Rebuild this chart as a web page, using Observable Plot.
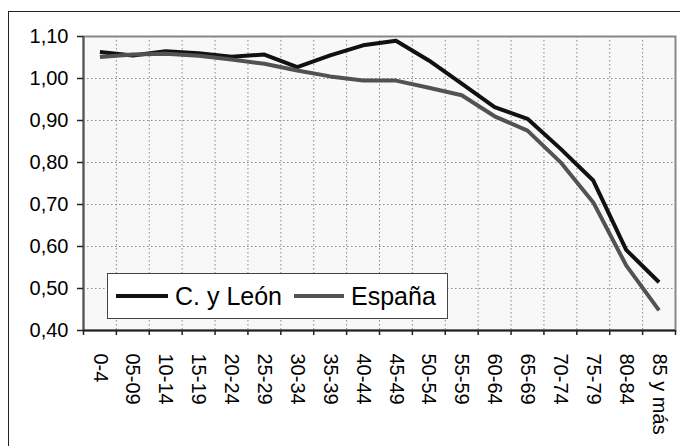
<!DOCTYPE html>
<html>
<head>
<meta charset="utf-8">
<script src="https://cdn.jsdelivr.net/npm/d3@7"></script>
<script src="https://cdn.jsdelivr.net/npm/@observablehq/plot@0.6"></script>
<style>
  html, body { margin: 0; padding: 0; background: #fff; width: 680px; height: 446px; overflow: hidden; }
  #wrap { position: relative; width: 680px; height: 446px; font-family: 'Liberation Sans', Arial, sans-serif; }
  #outer { position: absolute; left: 8px; top: 11px; width: 720px; height: 480px; border: 1.5px solid #222; pointer-events: none; }
  #legend { position: absolute; left: 107px; top: 273px; width: 339px; height: 44px; border: 1.5px solid #444; background: #fff; }
  .sw { position: absolute; top: 20px; height: 4px; }
  .lt { position: absolute; top: 0; line-height: 44px; font-size: 25px; color: #000; white-space: nowrap; }
</style>
</head>
<body>
<div id="wrap">
  <div id="chart"></div>
  <div id="legend"></div>
  <div id="outer"></div>
</div>
<script>
const categories = ["0-4","05-09","10-14","15-19","20-24","25-29","30-34","35-39","40-44","45-49","50-54","55-59","60-64","65-69","70-74","75-79","80-84","85 y más"];
const cyLeon = [1.063,1.055,1.065,1.060,1.052,1.057,1.027,1.055,1.079,1.090,1.043,0.988,0.932,0.904,0.833,0.757,0.592,0.515];
const espana = [1.051,1.057,1.059,1.054,1.045,1.035,1.019,1.005,0.995,0.995,0.978,0.960,0.910,0.876,0.801,0.705,0.555,0.448];
const yTicks = [0.40,0.50,0.60,0.70,0.80,0.90,1.00,1.10];
const seriesNames = ["C. y León","España"];
const seriesColors = ["#111111","#525252"];

const rows = [];
categories.forEach((c, i) => {
  rows.push({series: seriesNames[0], idx: i + 0.5, value: cyLeon[i]});
  rows.push({series: seriesNames[1], idx: i + 0.5, value: espana[i]});
});
const catPos = categories.map((c, i) => ({cat: c, idx: i + 0.5}));
const boundaries = d3.range(0, categories.length + 1);
const fmt = d => d.toFixed(2).replace(".", ",");

const chart = Plot.plot({
  width: 680,
  height: 446,
  marginTop: 36,
  marginRight: 5,
  marginBottom: 116,
  marginLeft: 83,
  style: {fontFamily: "'Liberation Sans', Arial, sans-serif", fontSize: "20px", color: "#000", background: "transparent", overflow: "visible"},
  x: {type: "linear", domain: [0, categories.length], label: null},
  y: {domain: [0.4, 1.1], label: null},
  color: {domain: seriesNames, range: seriesColors},
  marks: [
    Plot.frame({fill: "#f8f8f8", stroke: null}),
    Plot.ruleY(yTicks.slice(1, -1), {stroke: "#8a8a8a", strokeWidth: 1, strokeDasharray: "1.5,2.5"}),
    Plot.ruleX(boundaries.slice(1, -1), {stroke: "#8a8a8a", strokeWidth: 1, strokeDasharray: "1.5,2.5"}),
    Plot.frame({stroke: "#888", strokeWidth: 2}),
    Plot.ruleX([0], {stroke: "#555", strokeWidth: 2}),
    Plot.ruleY([0.4], {stroke: "#222", strokeWidth: 2}),
    Plot.line(rows, {x: "idx", y: "value", z: "series", stroke: "series", strokeWidth: 4, strokeLinejoin: "round", strokeLinecap: "butt"}),
    Plot.axisY({ticks: yTicks, tickFormat: fmt, tickSize: 6, tickPadding: 9, stroke: "#222", strokeWidth: 1.5, fontSize: 20, fill: "#000", label: null}),
    Plot.axisX({ticks: boundaries, tickFormat: () => "", tickSize: 5, stroke: "#222", strokeWidth: 1.5, label: null}),
    Plot.text(catPos, {x: "idx", text: "cat", frameAnchor: "bottom", dy: 23, rotate: 90, textAnchor: "start", lineAnchor: "middle", fontSize: 20, fill: "#000"})
  ]
});
document.getElementById("chart").appendChild(chart);

// legend
const legend = document.getElementById("legend");
const items = [
  {sw: 8, sww: 52, tx: 67},
  {sw: 186, sww: 50, tx: 243}
];
seriesNames.forEach((name, i) => {
  const s = document.createElement("div");
  s.className = "sw";
  s.style.left = items[i].sw + "px";
  s.style.width = items[i].sww + "px";
  s.style.background = seriesColors[i];
  legend.appendChild(s);
  const t = document.createElement("div");
  t.className = "lt";
  t.style.left = items[i].tx + "px";
  t.textContent = name;
  legend.appendChild(t);
});
</script>
</body>
</html>
